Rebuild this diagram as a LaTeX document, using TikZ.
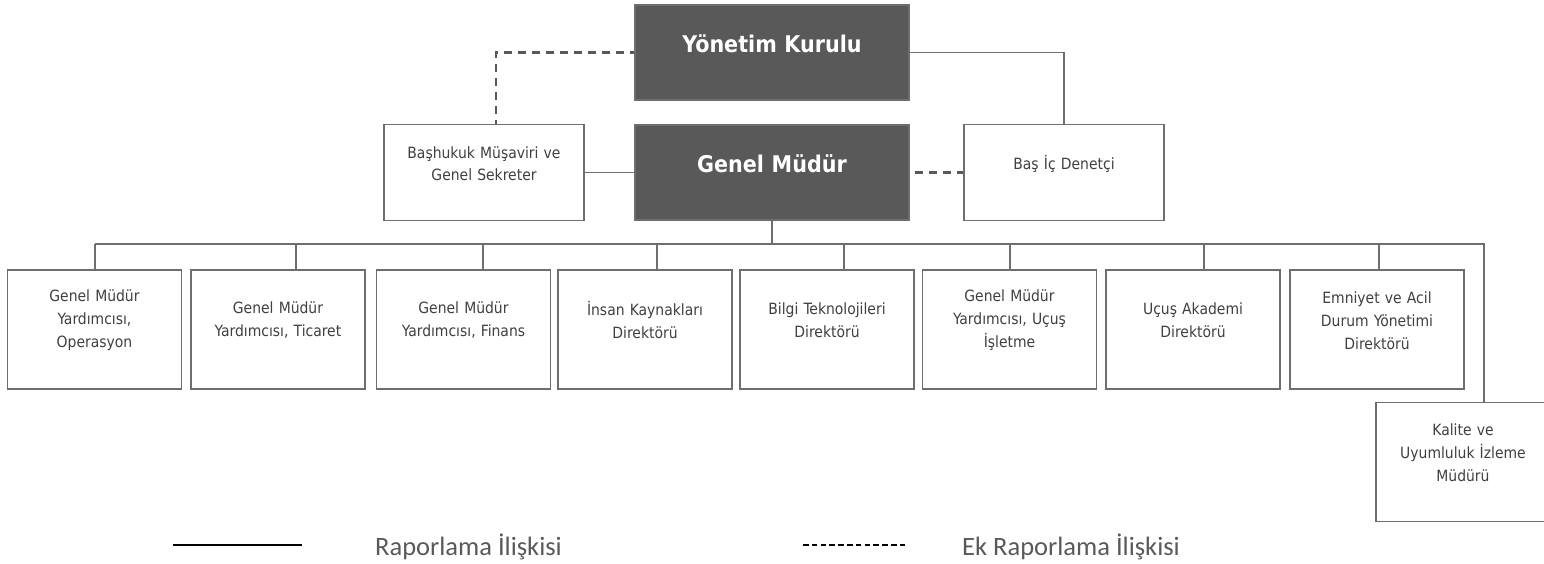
\documentclass[tikz,border=0pt]{standalone}
\usepackage{fontspec}
\setmainfont{DejaVu Sans Condensed}
\newfontfamily\legendfont{Carlito}
\definecolor{headgray}{HTML}{595959}
\definecolor{linegray}{HTML}{6E6E6E}
\definecolor{textgray}{HTML}{404040}
\newcommand{\padbottom}{\endgraf\vspace*{18pt}}

\begin{document}
\begin{tikzpicture}[x=1pt, y=-1pt,
	base/.style={draw=linegray, line width=1.3pt, align=center, inner sep=0pt, execute at end node=\padbottom},
	head/.style={base, fill=headgray, text=white, minimum width=274, minimum height=95, text width=260, font=\fontsize{23}{28}\selectfont\bfseries},
	side/.style={base, fill=white, text=textgray, minimum width=200, minimum height=96, text width=190, font=\fontsize{15.5}{22}\selectfont},
	unit/.style={side, minimum width=174, minimum height=119, text width=168, font=\fontsize{15.5}{23}\selectfont},
	link/.style={draw=linegray, line width=1.3pt},
	extra/.style={draw=headgray, line width=2.4pt, dash pattern=on 8pt off 6pt},
	legend/.style={anchor=base west, inner sep=0pt, text=headgray, font=\legendfont\fontsize{26.5}{30}\selectfont}]
		\useasboundingbox (0,0) rectangle (1544,563);

		\node[head] (yk) at (772,52.5) {Yönetim Kurulu};
		\node[head] (gm) at (772,172.5) {Genel Müdür};
		\node[side] (bh) at (484,172.5) {Başhukuk Müşaviri ve\\Genel Sekreter};
		\node[side] (bid) at (1064,172.5) {Baş İç Denetçi};

		\draw[extra, dash phase=4pt] (yk.west) -| ([xshift=12]bh.north);
		\draw[link] (yk.east) -| (bid.north);
		\draw[link] (bh) -- (gm);
		\draw[extra, dash phase=9pt] (gm) -- (bid);

		\coordinate (bus) at (772,244);
		\coordinate (busl) at (95,244);
		\coordinate (busr) at (1484,244);
		\draw[link] (gm) -- (bus);

		\foreach \id/\x/\tap/\txt in {
			o1/94.5/95/{Genel Müdür\\Yardımcısı,\\Operasyon},
			o2/278/296/{Genel Müdür\\Yardımcısı, Ticaret},
			o3/463.5/483/{Genel Müdür\\Yardımcısı, Finans},
			o4/645/657/{İnsan Kaynakları\\Direktörü},
			o5/827/844/{Bilgi Teknolojileri\\Direktörü},
			o6/1009.5/1010/{Genel Müdür\\Yardımcısı, Uçuş\\İşletme},
			o7/1193/1204/{Uçuş Akademi\\Direktörü},
			o8/1377/1379/{Emniyet ve Acil\\Durum Yönetimi\\Direktörü}}
		{
			\node[unit] (\id) at (\x,329.5) {\txt};
			\coordinate (t\id) at (\tap,244);
			\draw[link] (t\id) -- (t\id |- \id.north);
		}

		\node[unit] (kum) at (1463,462) {Kalite ve\\Uyumluluk İzleme\\Müdürü};
		\draw[link] (busl) -- (busr) -- (busr |- kum.north);

		% legend
		\coordinate (sa) at (173,545);
		\coordinate (sb) at (302,545);
		\draw[line width=1.5pt] (sa) -- (sb);
		\node[legend] (lg1) at (375,555) {Raporlama İlişkisi};
		\coordinate (da) at (803,545);
		\coordinate (db) at (908,545);
		\draw[line width=1.3pt, dash pattern=on 5.5pt off 3.3pt] (da) -- (db);
		\node[legend] (lg2) at (962,555) {Ek Raporlama İlişkisi};
	\end{tikzpicture}
\end{document}
